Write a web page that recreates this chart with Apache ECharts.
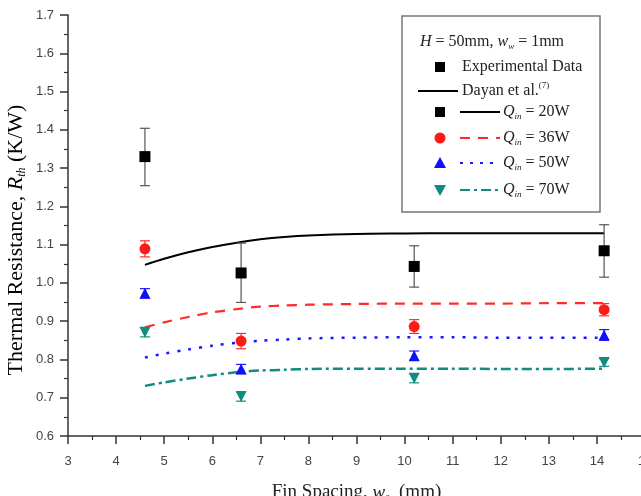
<!DOCTYPE html>
<html>
<head>
<meta charset="utf-8">
<script src="https://cdn.jsdelivr.net/npm/echarts@6/dist/echarts.min.js"></script>
<style>
html, body { margin: 0; padding: 0; background: #fff; }
#main { width: 641px; height: 496px; }
</style>
</head>
<body>
<div id="main"></div>
<script>
// experimental points (fin spacing, mm)
var expX = [4.6, 6.6, 10.2, 14.15];
var r20 = [1.330, 1.026, 1.043, 1.084];
var r20Lo = [1.254, 0.949, 0.989, 1.015];
var r20Hi = [1.404, 1.104, 1.097, 1.152];
var r36 = [1.089, 0.848, 0.886, 0.930];
var e36 = [0.021, 0.020, 0.018, 0.016];
var r50 = [0.973, 0.775, 0.810, 0.864];
var e50 = [0.012, 0.012, 0.012, 0.014];
var r70 = [0.871, 0.703, 0.751, 0.792];
var e70 = [0.012, 0.012, 0.012, 0.010];

// Dayan et al. model curves
var modelX = [4.6, 5, 5.5, 6, 6.6, 7, 7.5, 8, 9, 10, 11, 12, 13, 14.15];
var m20 = [1.047, 1.063, 1.080, 1.094, 1.107, 1.114, 1.120, 1.124, 1.128, 1.129, 1.130, 1.130, 1.130, 1.130];
var m36 = [0.884, 0.897, 0.911, 0.923, 0.933, 0.938, 0.941, 0.943, 0.945, 0.946, 0.946, 0.946, 0.947, 0.947];
var m50 = [0.805, 0.815, 0.826, 0.836, 0.845, 0.849, 0.852, 0.855, 0.857, 0.858, 0.858, 0.857, 0.857, 0.857];
var m70 = [0.731, 0.740, 0.750, 0.759, 0.768, 0.771, 0.773, 0.775, 0.776, 0.776, 0.776, 0.775, 0.775, 0.776];

var serif = '"Liberation Serif", "Times New Roman", serif';
var sans = '"Liberation Sans", Arial, sans-serif';

function pairs(xs, ys) {
    return xs.map(function (x, i) { return [x, ys[i]]; });
}
function bars(xs, lo, hi) {
    return xs.map(function (x, i) { return [x, lo[i], hi[i]]; });
}
function symBars(xs, ys, es) {
    return xs.map(function (x, i) { return [x, ys[i] - es[i], ys[i] + es[i]]; });
}

function errorSeries(data, color) {
    return {
        type: 'custom',
        data: data,
        z: 3,
        renderItem: function (params, api) {
            var x = api.value(0);
            var p1 = api.coord([x, api.value(1)]);
            var p2 = api.coord([x, api.value(2)]);
            var w = 5;
            var st = { stroke: color, lineWidth: 1.2 };
            return {
                type: 'group',
                children: [
                    { type: 'line', shape: { x1: p1[0], y1: p1[1], x2: p2[0], y2: p2[1] }, style: st },
                    { type: 'line', shape: { x1: p1[0] - w, y1: p1[1], x2: p1[0] + w, y2: p1[1] }, style: st },
                    { type: 'line', shape: { x1: p2[0] - w, y1: p2[1], x2: p2[0] + w, y2: p2[1] }, style: st }
                ]
            };
        }
    };
}

function modelSeries(ys, color, dash, width) {
    return {
        type: 'line',
        data: pairs(modelX, ys),
        smooth: 0.3,
        showSymbol: false,
        z: 2,
        lineStyle: { color: color, width: width, type: dash }
    };
}

var rich = {
    i: { fontFamily: serif, fontStyle: 'italic', fontSize: 16, color: '#222' },
    s: { fontFamily: serif, fontStyle: 'italic', fontSize: 9, color: '#222', padding: [10, 0, 0, 0] },
    t: { fontFamily: serif, fontSize: 16, color: '#222' },
    u: { fontFamily: serif, fontSize: 9, color: '#222', padding: [0, 0, 10, 0] }
};
var bigRich = {
    t: { fontFamily: serif, fontSize: 22, color: '#222' },
    i: { fontFamily: serif, fontSize: 22, fontStyle: 'italic', color: '#222' },
    s: { fontFamily: serif, fontSize: 12, fontStyle: 'italic', color: '#222', padding: [12, 0, 0, 0] }
};

function legendText(x, y, text) {
    return {
        type: 'text', x: x, y: y, z: 100,
        style: { text: text, rich: rich, font: '16px ' + serif, fill: '#222', verticalAlign: 'middle' }
    };
}
function legendLine(x1, x2, y, color, dash) {
    return {
        type: 'line', z: 100,
        shape: { x1: x1, y1: y, x2: x2, y2: y },
        style: { stroke: color, lineWidth: 2, lineDash: dash }
    };
}

var chart = echarts.init(document.getElementById('main'));
var option = {
    backgroundColor: '#fff',
    animation: false,
    grid: { left: 68, top: 15, width: 577, height: 421, outerBoundsMode: 'none', containLabel: false },
    xAxis: {
        type: 'value', min: 3, max: 15, interval: 1,
        name: '{t|Fin Spacing, }{i|w}{s|s}{t|  (mm)}',
        nameLocation: 'middle', nameGap: 46,
        nameTextStyle: {
            rich: {
                t: { fontFamily: serif, fontSize: 19, color: '#222' },
                i: { fontFamily: serif, fontSize: 19, fontStyle: 'italic', color: '#222' },
                s: { fontFamily: serif, fontSize: 11, fontStyle: 'italic', color: '#222', padding: [10, 0, 0, 0] }
            }
        },
        axisLine: { lineStyle: { color: '#333', width: 1.5 } },
        axisTick: { length: 8, lineStyle: { color: '#333', width: 1.5 } },
        minorTick: { show: true, splitNumber: 2, length: 4, lineStyle: { color: '#333', width: 1.2 } },
        axisLabel: { fontFamily: sans, fontSize: 13, color: '#444', margin: 19 },
        splitLine: { show: false }
    },
    yAxis: {
        type: 'value', min: 0.6, max: 1.7, interval: 0.1,
        axisLine: { show: true, lineStyle: { color: '#333', width: 1.5 } },
        axisTick: { show: true, length: 8, lineStyle: { color: '#333', width: 1.5 } },
        minorTick: { show: true, splitNumber: 2, length: 4, lineStyle: { color: '#333', width: 1.2 } },
        axisLabel: {
            fontFamily: sans, fontSize: 13, color: '#444', margin: 14,
            formatter: function (v) { return v.toFixed(1); }
        },
        splitLine: { show: false }
    },
    series: [
        modelSeries(m20, '#000', 'solid', 2),
        modelSeries(m36, '#ff2a2a', [10, 8], 2.2),
        modelSeries(m50, '#1a1aff', [3, 8], 2.5),
        modelSeries(m70, '#118c80', [10, 4, 3, 4], 2.5),
        errorSeries(bars(expX, r20Lo, r20Hi), '#555'),
        errorSeries(symBars(expX, r36, e36), '#ff2a2a'),
        errorSeries(symBars(expX, r50, e50), '#1a1aff'),
        errorSeries(symBars(expX, r70, e70), '#118c80'),
        { type: 'scatter', data: pairs(expX, r20), symbol: 'rect', symbolSize: 11, z: 4, itemStyle: { color: '#000', opacity: 1 } },
        { type: 'scatter', data: pairs(expX, r36), symbol: 'circle', symbolSize: 11, z: 4, itemStyle: { color: '#ff1a1a', opacity: 1 } },
        { type: 'scatter', data: pairs(expX, r50), symbol: 'triangle', symbolSize: 11, z: 4, itemStyle: { color: '#1010ff', opacity: 1 } },
        { type: 'scatter', data: pairs(expX, r70), symbol: 'triangle', symbolRotate: 180, symbolSize: 11, z: 4, itemStyle: { color: '#118c80', opacity: 1 } }
    ],
    graphic: [
        {
            type: 'text', x: 16, y: 240, rotation: Math.PI / 2,
            style: { text: '{t|Thermal Resistance, }{i|R}{s|th}{t| (K/W)}', rich: bigRich, align: 'center', verticalAlign: 'middle' }
        },
        { type: 'rect', z: 99, shape: { x: 402, y: 16, width: 198, height: 196 }, style: { fill: '#fff', stroke: '#777', lineWidth: 1.5 } },
        legendText(420, 42, '{i|H}{t| = 50mm, }{i|w}{s|w}{t| = 1mm}'),
        { type: 'rect', z: 100, shape: { x: 435, y: 62, width: 10, height: 10 }, style: { fill: '#000' } },
        legendText(462, 67, '{t|Experimental Data}'),
        legendLine(418, 458, 91, '#000', null),
        legendText(462, 91, '{t|Dayan et al.}{u|(7)}'),
        { type: 'rect', z: 100, shape: { x: 435, y: 107, width: 10, height: 10 }, style: { fill: '#000' } },
        legendLine(460, 500, 112, '#000', null),
        legendText(503, 112, '{i|Q}{s|in}{t| = 20W}'),
        { type: 'circle', z: 100, shape: { cx: 440, cy: 138, r: 5.5 }, style: { fill: '#ff1a1a' } },
        legendLine(460, 500, 138, '#ff2a2a', [10, 8]),
        legendText(503, 138, '{i|Q}{s|in}{t| = 36W}'),
        { type: 'polygon', z: 100, shape: { points: [[440, 157], [446, 168], [434, 168]] }, style: { fill: '#1010ff' } },
        legendLine(460, 500, 163, '#1a1aff', [3, 7]),
        legendText(503, 163, '{i|Q}{s|in}{t| = 50W}'),
        { type: 'polygon', z: 100, shape: { points: [[434, 185], [446, 185], [440, 196]] }, style: { fill: '#118c80' } },
        legendLine(460, 500, 190, '#118c80', [10, 4, 3, 4]),
        legendText(503, 190, '{i|Q}{s|in}{t| = 70W}')
    ]
};
chart.setOption(option);
</script>
</body>
</html>
